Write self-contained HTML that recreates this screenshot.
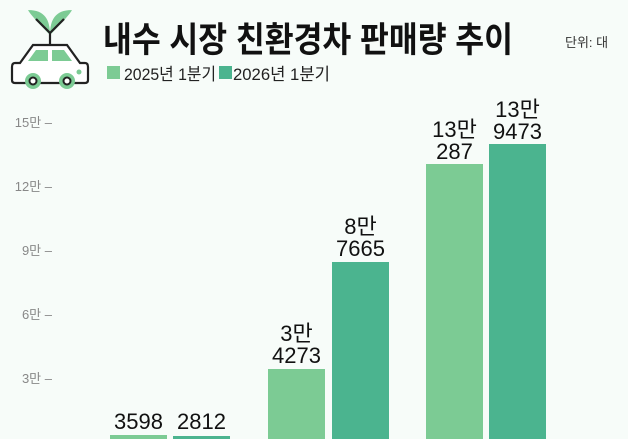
<!DOCTYPE html>
<html><head><meta charset="utf-8"><style>
html,body{margin:0;padding:0;background:#f7fcf9;}
svg{display:block;font-family:"Liberation Sans","Noto Sans CJK KR",sans-serif;}
</style></head><body>
<svg width="628" height="439" viewBox="0 0 628 439" xmlns="http://www.w3.org/2000/svg">
<rect width="628" height="439" fill="#f7fcf9"/>
<g transform="translate(0,5)">
<path d="M50 30 C30 10 28 5 28 5 C45 5 50 15 50 30Z" fill="#7ccb94"/>
<path d="M50 30 C70 10 72 5 72 5 C55 5 50 15 50 30Z" fill="#7ccb94"/>
<path d="M36 14 L50 28 L64 14 M50 28 V40" stroke="#222" stroke-width="2.2" fill="none"/>
<path d="M33 40 H67 L80 58 H85 Q88 58 88 62 V75 Q88 78 85 78 H15 Q12 78 12 75 V62 Q12 58 15 58 H20 Z" fill="#fff" stroke="#222" stroke-width="2.2"/>
<path d="M36 45 H48 V56 H28Z M52 45 H64 L72 56 H52Z" fill="#7ccb94"/>
<circle cx="79" cy="67" r="2.5" fill="#7ccb94"/>
<circle cx="33" cy="76" r="8" fill="#7ccb94"/><circle cx="33" cy="76" r="3.5" fill="#fff" stroke="#222" stroke-width="2"/>
<circle cx="67" cy="76" r="8" fill="#7ccb94"/><circle cx="67" cy="76" r="3.5" fill="#fff" stroke="#222" stroke-width="2"/>
</g>
<text x="103" y="52" font-size="35" font-weight="bold" fill="#111" textLength="410" lengthAdjust="spacingAndGlyphs">내수 시장 친환경차 판매량 추이</text>
<text x="565" y="47" font-size="13" fill="#333">단위: 대</text>
<rect x="107" y="66" width="13" height="13" fill="#7ccb94"/>
<text x="124" y="80" font-size="17" fill="#222" textLength="92" lengthAdjust="spacingAndGlyphs">2025년 1분기</text>
<rect x="219" y="66" width="13" height="13" fill="#4bb48f"/>
<text x="233" y="80" font-size="17" fill="#222" textLength="97" lengthAdjust="spacingAndGlyphs">2026년 1분기</text>
<g font-size="13" fill="#888" text-anchor="end">
<text x="52" y="127">15만 –</text>
<text x="52" y="191">12만 –</text>
<text x="52" y="255">9만 –</text>
<text x="52" y="319">6만 –</text>
<text x="52" y="383">3만 –</text>
</g>
<g fill="#7ccb94">
<rect x="110" y="435" width="57" height="10"/>
<rect x="268" y="369" width="57" height="80"/>
<rect x="426" y="164" width="57" height="280"/>
</g>
<g fill="#4bb48f">
<rect x="173" y="436" width="57" height="10"/>
<rect x="332" y="262" width="57" height="180"/>
<rect x="489" y="144" width="57" height="300"/>
</g>
<g font-size="22" fill="#111" text-anchor="middle">
<text x="138.5" y="429">3598</text>
<text x="201.5" y="429">2812</text>
<text x="296.5" y="341">3만</text><text x="296.5" y="363">4273</text>
<text x="360.5" y="234">8만</text><text x="360.5" y="256">7665</text>
<text x="454.5" y="137">13만</text><text x="454.5" y="159">287</text>
<text x="517.5" y="117">13만</text><text x="517.5" y="139">9473</text>
</g>
</svg>
</body></html>
